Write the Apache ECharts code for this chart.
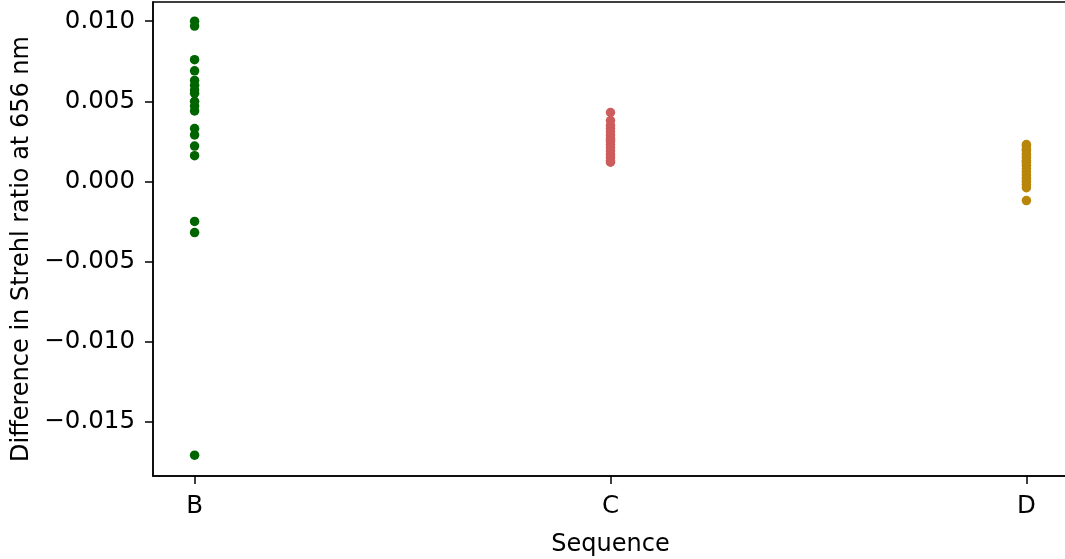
<!DOCTYPE html>
<html><head><meta charset="utf-8">
<script src="https://cdn.jsdelivr.net/npm/echarts@6/dist/echarts.min.js"></script>
<style>html,body{margin:0;padding:0;background:#fff}#c{width:1065px;height:559px}</style>
</head><body><div id="c"></div>
<script>
const categories = ['B', 'C', 'D'];
const yTicks = [-0.015, -0.010, -0.005, 0.000, 0.005, 0.010];
const seqB = [0.0100, 0.0097, 0.0076, 0.0069, 0.0063, 0.0060, 0.0057, 0.0055, 0.0050, 0.0047, 0.0044,
              0.0033, 0.0029, 0.0022, 0.0016, -0.0025, -0.0032, -0.0171];
const seqC = [0.0043, 0.0038, 0.0035, 0.0033, 0.0031, 0.0029, 0.0027, 0.0026, 0.0025, 0.0023,
              0.0021, 0.0019, 0.0017, 0.0015, 0.0013, 0.0012];
const seqD = [0.0023, 0.0022, 0.0020, 0.0019, 0.0017, 0.0015, 0.0013, 0.0012, 0.0010, 0.0008,
              0.0006, 0.0004, 0.0002, 0.0000, -0.0002, -0.0004, -0.0012];
const colors = ['#006400', '#CD5C5C', '#B8860B'];

const groups = [seqB, seqC, seqD];
const font = 'DejaVu Sans';
const chart = echarts.init(document.getElementById('c'), null, {renderer: 'canvas'});
chart.setOption({
  animation: false,
  grid: {left: 153, top: 2, width: 915, height: 474, show: true, borderColor: '#000', borderWidth: 1.5,
         containLabel: false, outerBoundsMode: 'none'},
  xAxis: {
    type: 'value', min: -0.1, max: 2.1,
    name: 'Sequence', nameLocation: 'middle', nameGap: 57,
    nameTextStyle: {fontFamily: font, fontSize: 24, color: '#000'},
    axisLine: {show: true, onZero: false, lineStyle: {color: '#000', width: 1.5}},
    axisTick: {show: true, length: 8, lineStyle: {color: '#000', width: 1.5}, customValues: [0, 1, 2]},
    axisLabel: {fontFamily: font, fontSize: 24.5, color: '#000', margin: 18, customValues: [0, 1, 2],
      formatter: v => categories[Math.round(v)]},
    splitLine: {show: false}
  },
  yAxis: {
    type: 'value', min: -0.0184, max: 0.0112,
    name: 'Difference in Strehl ratio at 656 nm', nameLocation: 'middle', nameGap: 119,
    nameTextStyle: {fontFamily: font, fontSize: 24, color: '#000', padding: [0, 20, 0, 0]},
    axisLine: {show: true, onZero: false, lineStyle: {color: '#000', width: 1.5}},
    axisTick: {show: true, length: 8, lineStyle: {color: '#000', width: 1.5}, customValues: yTicks},
    axisLabel: {fontFamily: font, fontSize: 24.5, color: '#000', margin: 18, customValues: yTicks,
      formatter: v => v.toFixed(3).replace('-', '\u2212')},
    splitLine: {show: false}
  },
  series: groups.map((g, i) => ({
    type: 'scatter', symbol: 'circle', symbolSize: 9.5,
    itemStyle: {color: colors[i], opacity: 1},
    data: g.map(v => [i, v])
  }))
});
</script></body></html>
